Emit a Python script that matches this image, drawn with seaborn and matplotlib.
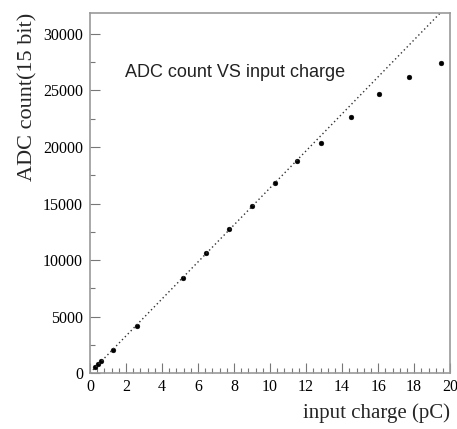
import numpy as np
import pandas as pd
import matplotlib
matplotlib.use("Agg")
import matplotlib.pyplot as plt
import seaborn as sns
from matplotlib.ticker import MultipleLocator

# data
charge_pc = [0.3, 0.45, 0.6, 1.3, 2.6, 5.15, 6.45, 7.7, 9.0, 10.3, 11.5, 12.8, 14.5, 16.05, 17.7, 19.5]
adc_count = [550, 780, 1020, 2050, 4150, 8450, 10600, 12750, 14800, 16850, 18750, 20350, 22650, 24650, 26200, 27400]
linear_range = 11.5  # points used for the straight-line fit

sns.set_theme(style="white")
plt.rcParams["font.family"] = ["Liberation Serif", "DejaVu Serif"]

df = pd.DataFrame({"charge": charge_pc, "adc": adc_count})

# linear fit on the low-charge points, drawn over the full range
lin = df[df["charge"] <= linear_range]
slope, icpt = np.polyfit(lin["charge"], lin["adc"], 1)
fit = pd.DataFrame({"charge": [0, 20]})
fit["adc"] = slope * fit["charge"] + icpt

fig = plt.figure(figsize=(4.57, 4.29), dpi=100)
ax = fig.add_axes([0.197, 0.1305, 0.788, 0.839])

sns.lineplot(data=fit, x="charge", y="adc", ax=ax, color="#333333",
             linestyle=(0, (1, 2)), linewidth=1.0)
sns.scatterplot(data=df, x="charge", y="adc", ax=ax, color="black",
                s=12, edgecolor="black", linewidth=0.3)

ax.set_xlim(0, 20)
ax.set_ylim(0, 31850)
ax.xaxis.set_major_locator(MultipleLocator(2))
ax.xaxis.set_minor_locator(MultipleLocator(0.4))
ax.yaxis.set_major_locator(MultipleLocator(5000))
ax.yaxis.set_minor_locator(MultipleLocator(2500))
ax.tick_params(axis="both", which="both", direction="in", colors="#777777",
               labelcolor="black", labelsize=11.5, width=0.8)
ax.tick_params(axis="both", which="major", length=7)
ax.tick_params(axis="both", which="minor", length=3.5)
ax.tick_params(axis="x", which="both", bottom=True, top=False, pad=4)
ax.tick_params(axis="y", which="both", left=True, right=False, pad=5)

for sp in ax.spines.values():
    sp.set_color("#999999")
    sp.set_linewidth(1.2)

ax.set_xlabel("input charge (pC)", fontsize=15, loc="right", labelpad=6)
ax.set_ylabel("ADC count(15 bit)", fontsize=16, loc="top", labelpad=4)

ax.text(1.95, 26600, "ADC count VS input charge", fontsize=13,
        family=["Liberation Sans", "DejaVu Sans"], color="#222222", va="center")

fig.savefig("out.png", dpi=100)
